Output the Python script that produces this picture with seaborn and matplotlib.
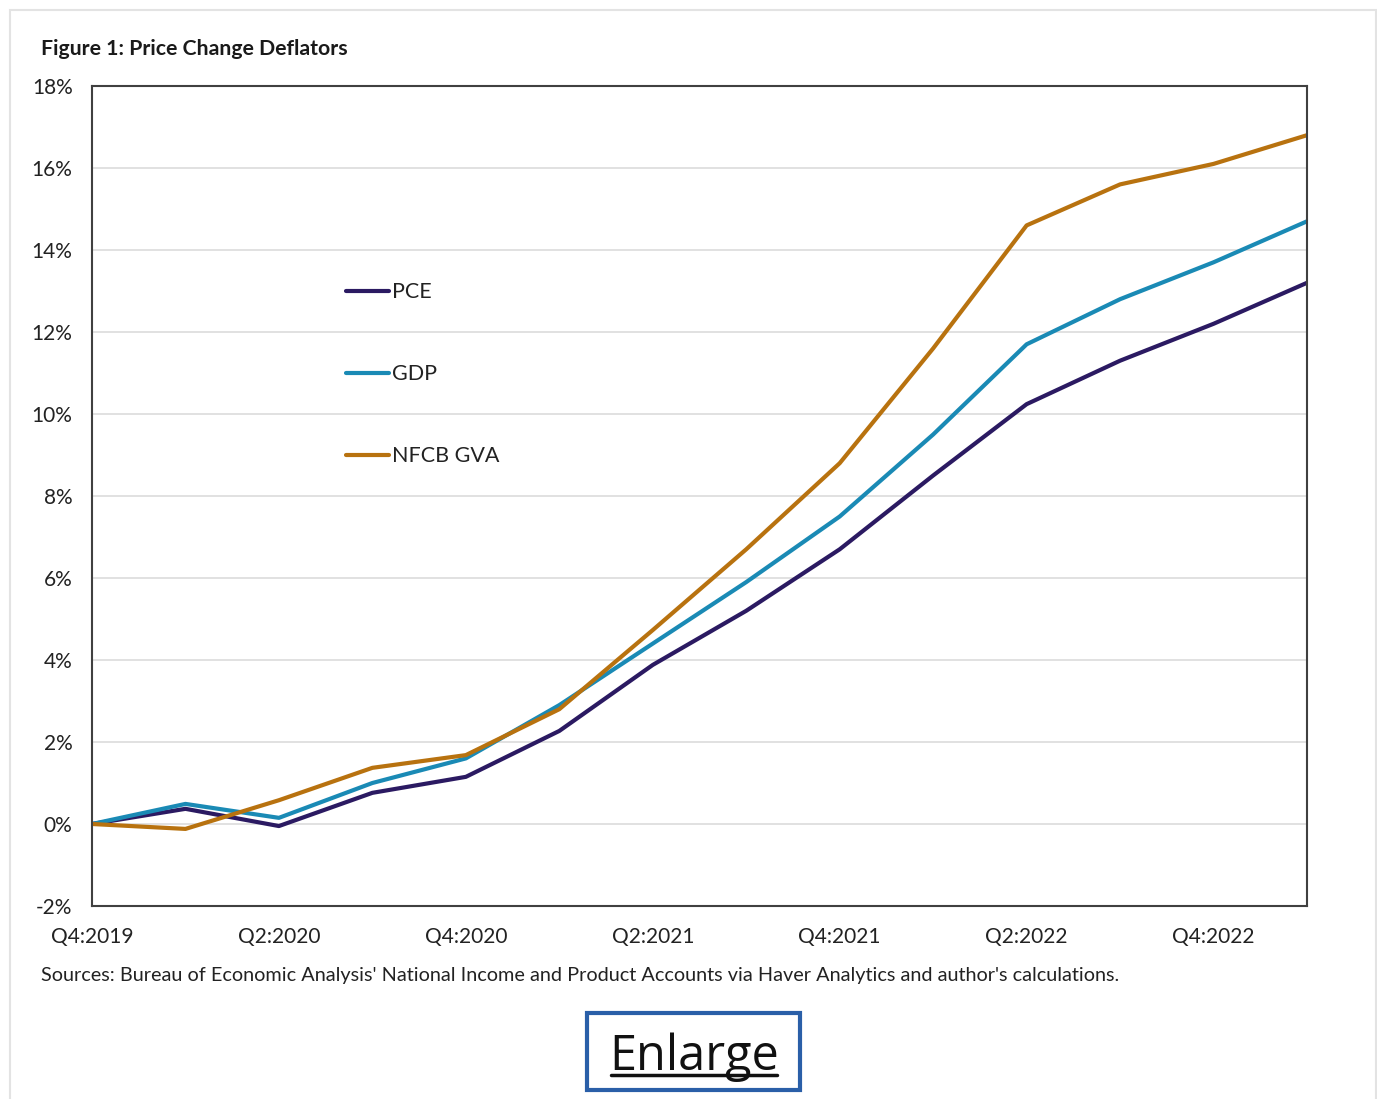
import matplotlib
matplotlib.use("Agg")
import matplotlib.pyplot as plt
from matplotlib.lines import Line2D
from matplotlib.patches import Rectangle
import seaborn as sns
import pandas as pd

quarters = ["Q4:2019", "Q1:2020", "Q2:2020", "Q3:2020", "Q4:2020", "Q1:2021", "Q2:2021",
            "Q3:2021", "Q4:2021", "Q1:2022", "Q2:2022", "Q3:2022", "Q4:2022", "Q1:2023"]
pce = [0.0, 0.37, -0.05, 0.76, 1.15, 2.27, 3.88, 5.2, 6.7, 8.5, 10.24, 11.3, 12.2, 13.2]
gdp = [0.0, 0.49, 0.15, 1.0, 1.6, 2.9, 4.4, 5.9, 7.5, 9.5, 11.7, 12.8, 13.7, 14.7]
nfcb = [0.0, -0.12, 0.58, 1.37, 1.68, 2.8, 4.73, 6.7, 8.8, 11.6, 14.6, 15.6, 16.1, 16.8]
series_names = ["PCE", "GDP", "NFCB GVA"]
colors = ["#2b1a62", "#1a8ab5", "#b8720f"]
yticks = list(range(-2, 19, 2))

rows = []
for name, vals in zip(series_names, [pce, gdp, nfcb]):
    for i, v in enumerate(vals):
        rows.append({"idx": i, "value": v, "series": name})
df = pd.DataFrame(rows)

sns.set_theme(style="white")
plt.rcParams['font.family'] = ['Lato', 'DejaVu Sans']

fig = plt.figure(figsize=(13.77, 10.99), dpi=100)
ax = fig.add_axes([92/1377, 1-906/1099, (1307-92)/1377, (906-86)/1099])

sns.lineplot(data=df, x="idx", y="value", hue="series", hue_order=series_names,
             palette=colors, linewidth=3, ax=ax, legend=True)

ax.set_xlim(0, len(quarters) - 1)
ax.set_ylim(-2, 18)
ax.set_yticks(yticks)
ax.set_yticklabels([f"{t}%" for t in yticks], fontsize=15, color="#222222")
xt = list(range(0, len(quarters), 2))
ax.set_xticks(xt)
ax.set_xticklabels([quarters[i] for i in xt], fontsize=15, color="#222222")
ax.tick_params(axis="y", pad=14, length=0)
ax.tick_params(axis="x", pad=15, length=0)
ax.set_xlabel("")
ax.set_ylabel("")
ax.grid(axis="y", color="#dcdcdc", linewidth=1.2)
ax.set_axisbelow(True)
for s in ax.spines.values():
    s.set_color("#404040")
    s.set_linewidth(1.5)

leg = ax.legend(loc="upper left", bbox_to_anchor=(0.193, 0.784), frameon=False,
                fontsize=15.5, handlelength=2.0, handletextpad=0.12, labelspacing=2.88)
for t in leg.get_texts():
    t.set_color("#222222")

fig.text(41/1377, 1-49/1099, "Figure 1: Price Change Deflators", fontsize=15.3,
         fontweight="bold", color="#1a1a1a", va="center", ha="left")
fig.text(41/1377, 1-976/1099,
         "Sources: Bureau of Economic Analysis' National Income and Product Accounts via Haver Analytics and author's calculations.",
         fontsize=14.3, color="#222222", va="center", ha="left")

# outer border
fig.add_artist(Rectangle((10/1377, -0.01), (1376-10)/1377, 1-10/1099 + 0.01,
                         transform=fig.transFigure, fill=False, edgecolor="#e3e3e3", linewidth=1.5))
# Enlarge button
fig.add_artist(Rectangle((587/1377, 1-1090/1099), (800-587)/1377, (1090-1013)/1099,
                         transform=fig.transFigure, fill=False, edgecolor="#2a5fa8", linewidth=3))
fig.text(694/1377, 1-1057/1099, "Enlarge", fontsize=35, color="#111111",
         ha="center", va="center", family=["Open Sans", "DejaVu Sans"])
fig.add_artist(Line2D([611/1377, 777/1377], [1-1075/1099, 1-1075/1099],
                      transform=fig.transFigure, color="#111111", linewidth=2.5))

fig.savefig("out.png", dpi=100)
